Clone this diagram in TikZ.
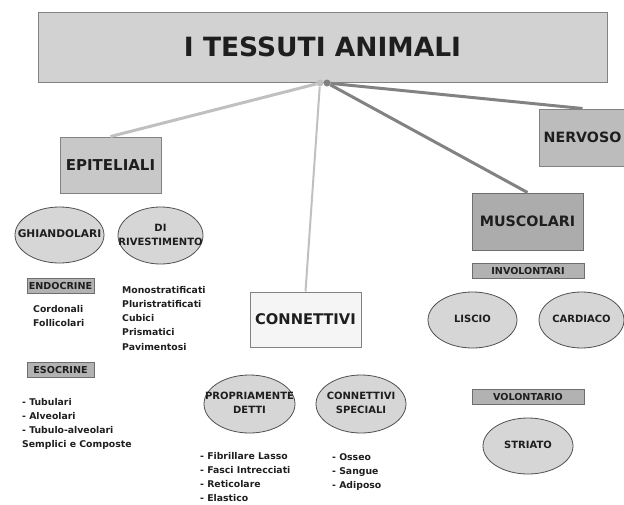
\documentclass[tikz,border=0pt]{standalone}
\usepackage{fontspec}
\setmainfont{DejaVu Sans}
\usetikzlibrary{shapes.geometric, positioning}
\usepackage{xcolor}
\definecolor{inkgray}{RGB}{30,30,30}
\definecolor{titlegray}{RGB}{210,210,210}
\definecolor{epigray}{RGB}{200,200,200}
\definecolor{nervgray}{RGB}{188,188,188}
\definecolor{muscgray}{RGB}{172,172,172}
\definecolor{conngray}{RGB}{245,245,245}
\definecolor{taggray}{RGB}{178,178,178}
\definecolor{blobgray}{RGB}{214,214,214}
\definecolor{boxline}{RGB}{130,130,130}
\definecolor{tagline}{RGB}{110,110,110}
\definecolor{blobline}{RGB}{80,80,80}
\definecolor{linklight}{RGB}{192,192,192}
\definecolor{linkdark}{RGB}{130,130,130}
\newcommand{\blobtext}[1]{\makebox[0pt]{\begin{tabular}{@{}c@{}}#1\end{tabular}}}

\begin{document}
\begin{tikzpicture}[
    x=1pt, y=-1pt,
    box/.style={rectangle, draw=boxline, line width=1pt, inner sep=0pt, align=center, text=inkgray},
    tag/.style={box, fill=taggray, draw=tagline, minimum height=15pt, font=\bfseries\fontsize{9.6}{11}\selectfont},
    blob/.style={ellipse, draw=blobline, line width=0.8pt, fill=blobgray, inner sep=0pt, text=inkgray, font=\bfseries\fontsize{10}{14}\selectfont},
    items/.style={anchor=north west, inner sep=0pt, align=left, text=inkgray, font=\bfseries\fontsize{9.3}{14.2}\selectfont},
    hub/.style={circle, inner sep=0pt, minimum size=7pt},
    lightlink/.style={line width=3pt, draw=linklight},
    darklink/.style={line width=3pt, draw=linkdark}
]
\useasboundingbox (0,0) rectangle (624,504);

\node[box, fill=titlegray, minimum width=569pt, minimum height=70pt, font=\bfseries\fontsize{26.5}{30}\selectfont] (title) at (322.5,47) {I TESSUTI ANIMALI};
\node[box, fill=epigray, minimum width=101pt, minimum height=56pt, font=\bfseries\fontsize{15}{18}\selectfont] (epiteliali) at (110.5,165) {EPITELIALI};
\node[box, fill=nervgray, minimum width=87pt, minimum height=57pt, font=\bfseries\fontsize{14.2}{17}\selectfont] (nervoso) at (582.5,137.5) {NERVOSO};
\node[box, fill=muscgray, draw=tagline, minimum width=111pt, minimum height=57pt, font=\bfseries\fontsize{14.3}{17}\selectfont] (muscolari) at (527.5,221.5) {MUSCOLARI};
\node[box, fill=conngray, minimum width=111pt, minimum height=55pt, font=\bfseries\fontsize{14.7}{17}\selectfont] (connettivi) at (305.5,319.5) {CONNETTIVI};

\node[blob, minimum width=89pt, minimum height=56pt, font=\bfseries\fontsize{10.6}{14}\selectfont] (ghiandolari) at (59.5,235) {\blobtext{GHIANDOLARI}};
\node[blob, minimum width=85pt, minimum height=57pt] (rivestimento) at (160.5,235.5) {\blobtext{DI\\RIVESTIMENTO}};
\node[blob, minimum width=91pt, minimum height=58pt] (propriamente) at (249.5,404) {\blobtext{PROPRIAMENTE\\DETTI}};
\node[blob, minimum width=90pt, minimum height=58pt] (speciali) at (361,404) {\blobtext{CONNETTIVI\\SPECIALI}};
\node[blob, minimum width=89pt, minimum height=56pt] (liscio) at (472.5,320) {\blobtext{LISCIO}};
\node[blob, minimum width=85pt, minimum height=56pt] (cardiaco) at (581.5,320) {\blobtext{CARDIACO}};
\node[blob, minimum width=90pt, minimum height=56pt] (striato) at (528,446) {\blobtext{STRIATO}};

\node[tag, minimum width=67pt] (endocrine) at (60.5,285.5) {ENDOCRINE};
\node[tag, minimum width=67pt] (esocrine) at (60.5,369.5) {ESOCRINE};
\node[tag, minimum width=112pt] (involontari) at (528,270.5) {INVOLONTARI};
\node[tag, minimum width=112pt] (volontario) at (528,396.5) {VOLONTARIO};

\node[items] (endolist) at (33,305) {Cordonali\\Follicolari};
\node[items] (rivlist) at (122,286) {Monostratificati\\Pluristratificati\\Cubici\\Prismatici\\Pavimentosi};
\node[items] (esolist) at (22,398) {- Tubulari\\- Alveolari\\- Tubulo-alveolari\\Semplici e Composte};
\node[items] (propilist) at (200,452) {- Fibrillare Lasso\\- Fasci Intrecciati\\- Reticolare\\- Elastico};
\node[items] (specialist) at (332,453) {- Osseo\\- Sangue\\- Adiposo};

\node[hub, fill=linklight] (hubA) at (320,83) {};
\node[hub, fill=linkdark] (hubB) at (327,83) {};

\draw[lightlink] (hubA) -- (epiteliali.north);
\draw[lightlink, line width=2pt] (hubA) -- (connettivi.north);
\draw[darklink] (hubB) -- (muscolari.north);
\draw[darklink] (hubB) -- (nervoso.north);
\end{tikzpicture}
\end{document}
